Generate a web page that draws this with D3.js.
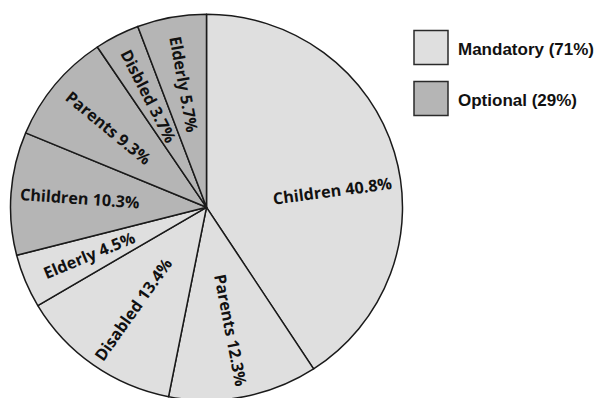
<!DOCTYPE html>
<html>
<head>
<meta charset="utf-8">
<script src="https://cdn.jsdelivr.net/npm/d3@7"></script>
<style>
  html, body { margin: 0; padding: 0; background: #ffffff; }
  svg { display: block; }
</style>
</head>
<body>
<svg id="chart" width="597" height="398"></svg>
<script>
// ---- data ----
const sliceLabels = ["Children", "Parents", "Disabled", "Elderly", "Children", "Parents", "Disbled", "Elderly"];
const sliceValues = [40.8, 12.3, 13.4, 4.5, 10.3, 9.3, 3.7, 5.7];
const sliceGroups = ["Mandatory", "Mandatory", "Mandatory", "Mandatory", "Optional", "Optional", "Optional", "Optional"];
const legendGroups = ["Mandatory", "Optional"];
const legendLabels = ["Mandatory (71%)", "Optional (29%)"];

// ---- layout ----
const W = 597, H = 398;
const cx = 206.5, cy = 207.3;
const R = 196, ryScale = 193 / 196;
const labelR = 127;
const labelAngleOffset = {0: 9}; // degrees, layout tweak for the big slice

const color = d3.scaleOrdinal().domain(legendGroups).range(["#dfdfdf", "#b5b5b5"]);

const svg = d3.select("#chart");

const pie = d3.pie().sort(null).value(d => d.v);
const data = sliceValues.map((v, i) => ({v, label: sliceLabels[i], group: sliceGroups[i]}));
const arcs = pie(data);

const arc = d3.arc().innerRadius(0).outerRadius(R);

const g = svg.append("g").attr("transform", `translate(${cx},${cy}) scale(1,${ryScale})`);
g.selectAll("path").data(arcs).enter().append("path")
  .attr("d", arc)
  .attr("fill", d => color(d.data.group))
  .attr("stroke", "#1a1a1a")
  .attr("stroke-width", 1.5)
  .attr("stroke-linejoin", "round");

// labels
const lg = svg.append("g");
arcs.forEach((d, i) => {
  let a = (d.startAngle + d.endAngle) / 2 * 180 / Math.PI;
  if (labelAngleOffset[i]) a += labelAngleOffset[i];
  const rad = a * Math.PI / 180;
  const x = cx + labelR * Math.sin(rad);
  const y = cy - labelR * ryScale * Math.cos(rad);
  const rot = a < 180 ? a - 90 : a - 270;
  lg.append("text")
    .attr("transform", `translate(${x},${y}) rotate(${rot})`)
    .attr("text-anchor", "middle")
    .attr("dominant-baseline", "central")
    .attr("font-family", "'Open Sans', 'Noto Sans', sans-serif")
    .attr("font-weight", 700)
    .attr("font-size", 16.2)
    .attr("fill", "#111")
    .text(`${d.data.label} ${d.data.v.toFixed(1)}%`);
});

// legend
const leg = svg.append("g");
legendGroups.forEach((gname, i) => {
  const y0 = 30.5 + i * 51;
  leg.append("rect")
    .attr("x", 414).attr("y", y0)
    .attr("width", 34).attr("height", 34)
    .attr("fill", color(gname))
    .attr("stroke", "#2a2a2a")
    .attr("stroke-width", 1.5);
  leg.append("text")
    .attr("x", 458).attr("y", y0 + 24)
    .attr("font-family", "'Liberation Sans', Arial, sans-serif")
    .attr("font-weight", "bold")
    .attr("font-size", 17)
    .attr("fill", "#111")
    .text(legendLabels[i]);
});
</script>
</body>
</html>
